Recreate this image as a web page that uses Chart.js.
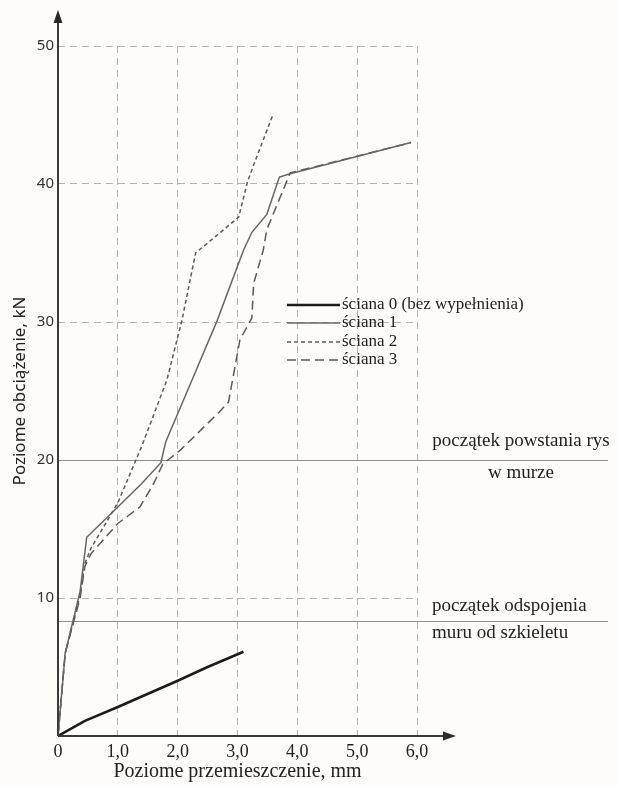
<!DOCTYPE html>
<html lang="pl">
<head>
<meta charset="utf-8">
<title>Poziome obciążenie – poziome przemieszczenie</title>
<script src="https://cdn.jsdelivr.net/npm/chart.js@4/dist/chart.umd.min.js"></script>
<style>
  html, body { margin: 0; padding: 0; background: #fdfcf9; }
  #wrap { width: 617px; height: 785px; }
</style>
</head>
<body>
<div id="wrap"><canvas id="c" width="617" height="785"></canvas></div>
<script>
// Axis ticks
const xTicks = [0, 1, 2, 3, 4, 5, 6];
const yTicks = [10, 20, 30, 40, 50];

// Series: [displacement mm, load kN]
const seriesNames = ['ściana 0 (bez wypełnienia)', 'ściana 1', 'ściana 2', 'ściana 3'];
const sciana0 = [[0, 0], [0.45, 1.1], [1.0, 2.1], [2.0, 4.0], [2.5, 5.0], [3.1, 6.1]];
const sciana1 = [[0, 0], [0.12, 6.0], [0.37, 10.5], [0.48, 14.4], [1.0, 16.6], [1.4, 18.3],
                 [1.72, 19.8], [1.8, 21.3], [2.24, 25.8], [2.66, 30.1], [3.1, 35.2], [3.24, 36.5],
                 [3.49, 37.8], [3.7, 40.5], [3.85, 40.7], [5.9, 43.0]];
const sciana2 = [[0, 0], [0.12, 6.0], [0.37, 10.2], [0.45, 12.5], [0.55, 13.6], [1.0, 16.9],
                 [1.4, 21.0], [1.82, 25.8], [2.07, 30.1], [2.3, 35.0], [3.02, 37.6], [3.17, 40.2],
                 [3.35, 42.3], [3.6, 45.1]];
const sciana3 = [[0, 0], [0.12, 6.0], [0.37, 10.0], [0.45, 12.3], [0.55, 13.2], [1.0, 15.4],
                 [1.37, 16.6], [1.6, 18.3], [1.75, 19.7], [2.04, 20.7], [2.7, 23.5], [2.85, 24.2],
                 [3.04, 28.7], [3.24, 30.3], [3.27, 32.8], [3.43, 35.2], [3.49, 36.7], [3.88, 40.8],
                 [5.9, 43.0]];

// Characteristic load levels and their descriptions
const levelValues = [20, 8.3];
const levelLabels = [['początek powstania rys', 'w murze'], ['początek odspojenia', 'muru od szkieletu']];

const toPoints = arr => arr.map(([x, y]) => ({ x, y }));

const SERIF = '"Liberation Serif", "Times New Roman", serif';
const SANS = '"Noto Sans", "Open Sans", sans-serif';
const INK = '#222222';

// Axes with arrows, level lines, their captions and the legend
const frame = {
  id: 'frame',
  beforeDatasetsDraw(chart) {
    const { ctx, scales: { x, y } } = chart;
    ctx.save();
    ctx.strokeStyle = '#8e8e8e';
    ctx.lineWidth = 1;
    levelValues.forEach(v => {
      const py = Math.round(y.getPixelForValue(v)) + 0.5;
      ctx.beginPath();
      ctx.moveTo(x.left, py);
      ctx.lineTo(608, py);
      ctx.stroke();
    });
    ctx.restore();
  },
  afterDraw(chart) {
    const { ctx, scales: { x, y } } = chart;
    const ox = x.getPixelForValue(0);
    const oy = y.getPixelForValue(0);
    ctx.save();
    ctx.strokeStyle = '#3a3a3a';
    ctx.fillStyle = '#2a2a2a';
    ctx.lineWidth = 2;
    // vertical axis
    ctx.beginPath(); ctx.moveTo(ox, oy); ctx.lineTo(ox, 20); ctx.stroke();
    ctx.beginPath(); ctx.moveTo(ox, 10); ctx.lineTo(ox - 4.5, 23); ctx.lineTo(ox + 4.5, 23); ctx.closePath(); ctx.fill();
    // horizontal axis
    ctx.beginPath(); ctx.moveTo(ox, oy); ctx.lineTo(446, oy); ctx.stroke();
    ctx.beginPath(); ctx.moveTo(456, oy); ctx.lineTo(443, oy - 4.5); ctx.lineTo(443, oy + 4.5); ctx.closePath(); ctx.fill();

    // captions of the characteristic levels
    ctx.fillStyle = INK;
    ctx.font = '19px ' + SERIF;
    ctx.textBaseline = 'middle';
    const tx = x.right + 15;
    levelValues.forEach((v, i) => {
      const py = y.getPixelForValue(v);
      if (i === 0) {
        ctx.textAlign = 'center';
        ctx.fillText(levelLabels[i][0], 521, py - 19);
        ctx.fillText(levelLabels[i][1], 521, py + 13);
      } else {
        ctx.textAlign = 'left';
        ctx.fillText(levelLabels[i][0], tx, py - 15);
        ctx.fillText(levelLabels[i][1], tx, py + 12);
      }
    });

    // legend
    const lx0 = 287, lx1 = 340, rowY = [305, 323, 342, 360];
    chart.data.datasets.forEach((ds, i) => {
      const py = rowY[i];
      ctx.save();
      ctx.strokeStyle = ds.borderColor;
      ctx.lineWidth = ds.borderWidth;
      ctx.setLineDash(ds.borderDash || []);
      ctx.beginPath(); ctx.moveTo(lx0, py); ctx.lineTo(lx1, py); ctx.stroke();
      ctx.restore();
      ctx.fillStyle = INK;
      ctx.textAlign = 'left';
      ctx.font = '17px ' + SERIF;
      ctx.fillText(ds.label, lx1 + 2, py);
    });
    ctx.restore();
  }
};

const lineStyle = (label, data, color, width, dash) => ({
  label, data: toPoints(data), borderColor: color, backgroundColor: color,
  borderWidth: width, borderDash: dash, pointRadius: 0, tension: 0, fill: false
});

new Chart(document.getElementById('c'), {
  type: 'line',
  data: {
    datasets: [
      lineStyle(seriesNames[0], sciana0, '#1c1c1c', 2.6, []),
      lineStyle(seriesNames[1], sciana1, '#666666', 1.5, []),
      lineStyle(seriesNames[2], sciana2, '#5a5a5a', 1.5, [4, 3]),
      lineStyle(seriesNames[3], sciana3, '#5a5a5a', 1.5, [9, 5])
    ]
  },
  options: {
    responsive: false,
    animation: false,
    layout: { padding: { top: 46, right: 200, left: 0, bottom: 0 } },
    plugins: { legend: { display: false }, tooltip: { enabled: false } },
    scales: {
      x: {
        type: 'linear', min: 0, max: 6,
        afterBuildTicks: s => { s.ticks = xTicks.map(v => ({ value: v })); },
        afterFit: s => { s.height = 49; },
        grid: {
          drawTicks: false,
          color: c => (c.tick && c.tick.value === 0) ? 'rgba(0,0,0,0)' : '#b3b3b3',
          lineWidth: 1
        },
        border: { display: false, dash: [7, 5] },
        ticks: {
          padding: 5, color: INK, font: { family: SERIF, size: 18 },
          maxRotation: 0,
          callback: v => v === 0 ? '0' : v.toFixed(1).replace('.', ',')
        },
        title: {
          display: true, text: 'Poziome przemieszczenie, mm', color: INK,
          font: { family: SERIF, size: 20 }, padding: { top: 0, bottom: 1 }
        }
      },
      y: {
        type: 'linear', min: 0, max: 50,
        afterBuildTicks: s => { s.ticks = yTicks.map(v => ({ value: v })); },
        afterFit: s => { s.width = 58; },
        grid: {
          drawTicks: false,
          color: c => (c.tick && c.tick.value === 20) ? 'rgba(0,0,0,0)' : '#b3b3b3',
          lineWidth: 1
        },
        border: { display: false, dash: [7, 5] },
        ticks: { padding: 4, color: '#333333', font: { family: SANS, size: 15 } },
        title: {
          display: true, text: 'Poziome obciążenie, kN', color: INK,
          font: { family: SANS, size: 17 }, padding: { top: 10, bottom: 0 }
        }
      }
    }
  },
  plugins: [frame]
});
</script>
</body>
</html>
